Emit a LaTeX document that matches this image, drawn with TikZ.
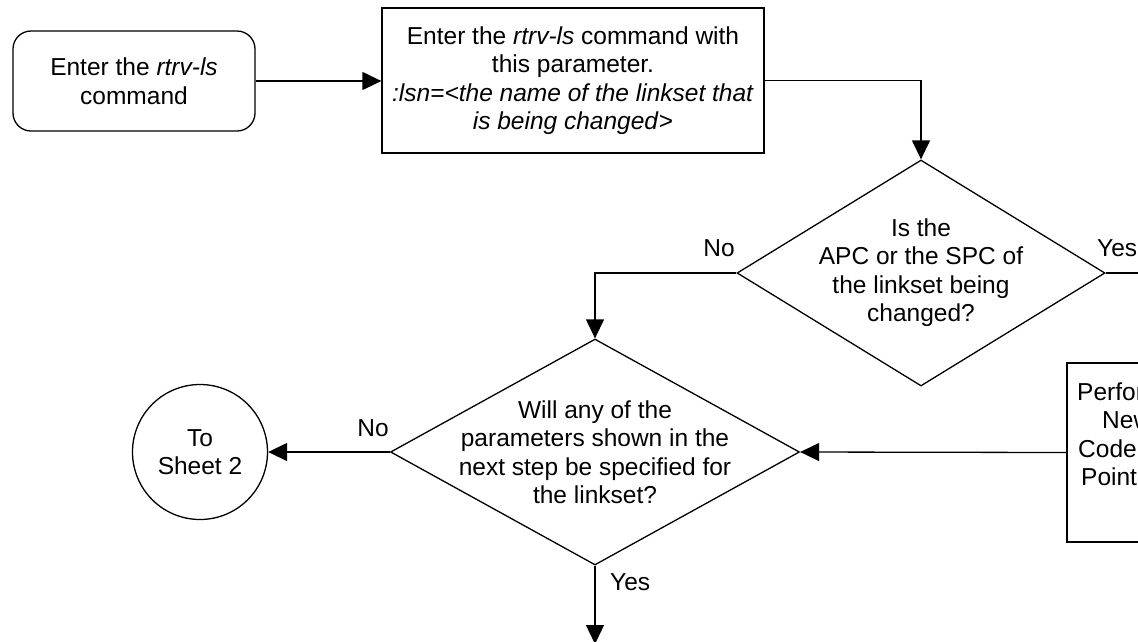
\documentclass[tikz,border=0pt]{standalone}
\usepackage{fontspec}
\setmainfont{Liberation Sans}
\usetikzlibrary{arrows.meta,shapes.geometric}
\tikzset{
  base/.style={font=\fontsize{24.5}{28.5}\selectfont},
  boxnode/.style={base,draw,line width=1.3pt,inner sep=0pt,align=center},
  dianode/.style={draw,line width=1.3pt,shape=diamond,inner sep=0pt},
  txt/.style={base,align=center,inner sep=0pt},
  lbl/.style={base,inner sep=0pt},
  conn/.style={line width=1.3pt},
  arr/.style={conn,-{Triangle[length=19pt,width=18pt]}}
}
\begin{document}
\begin{tikzpicture}[x=1pt,y=-1pt]
\useasboundingbox (0,0) rectangle (1138,641);
\clip (0,0) rectangle (1138,641);
\fill[white] (0,0) rectangle (1138,641);

\node[boxnode,rounded corners=18pt,minimum width=242pt,minimum height=100pt] (start) at (134,81)
  {Enter the \textit{rtrv-ls}\\command};
\node[boxnode,minimum width=382pt,minimum height=145pt] (cmd) at (573,80.5)
  {Enter the \textit{rtrv-ls} command with\\this parameter.\\\textit{:lsn=<the name of the linkset that}\\\textit{is being changed}>};

\node[dianode,minimum width=368pt,minimum height=226pt] (d1) at (921,273) {};
\node[txt] (d1t) at (921,272.5) {Is the\\APC or the SPC of\\the linkset being\\changed?};

\node[dianode,minimum width=409pt,minimum height=226pt] (d2) at (595,452) {};
\node[txt] (d2t) at (595,452) {Will any of the\\parameters shown in the\\next step be specified for\\the linkset?};

\node[boxnode,minimum width=240pt,minimum height=179pt] (perf) at (1187,452.5) {};
\node[lbl,anchor=base west] (p1) at (1077,400) {Perform};
\node[lbl,anchor=base west] (p2) at (1102,428.5) {New};
\node[lbl,anchor=base west] (p3) at (1078,457) {Code};
\node[lbl,anchor=base west] (p4) at (1081,485.5) {Point};

\node[boxnode,circle,minimum size=135pt] (sheet) at (200,452) {To\\Sheet 2};

\coordinate (yesR) at (1150,273);
\coordinate (bot) at (595,644);

\draw[arr] (start.east) -- (start.east -| cmd.west);
\draw[arr] (cmd.east) -| (d1.north);
\draw[arr] (d1.west) -| (d2.north);
\draw[conn] (d1.east) -- (yesR);
\draw[arr] (perf.west) -- (d2.east);
\draw[arr] (d2.west) -- (sheet.east);
\draw[arr] (d2.south) -- (bot);

\node[lbl] (no1) at (719,248) {No};
\node[lbl,anchor=west] (yes1) at (1097,248) {Yes};
\node[lbl] (no2) at (373,428) {No};
\node[lbl,anchor=west] (yes2) at (610,582) {Yes};
\end{tikzpicture}
\end{document}
